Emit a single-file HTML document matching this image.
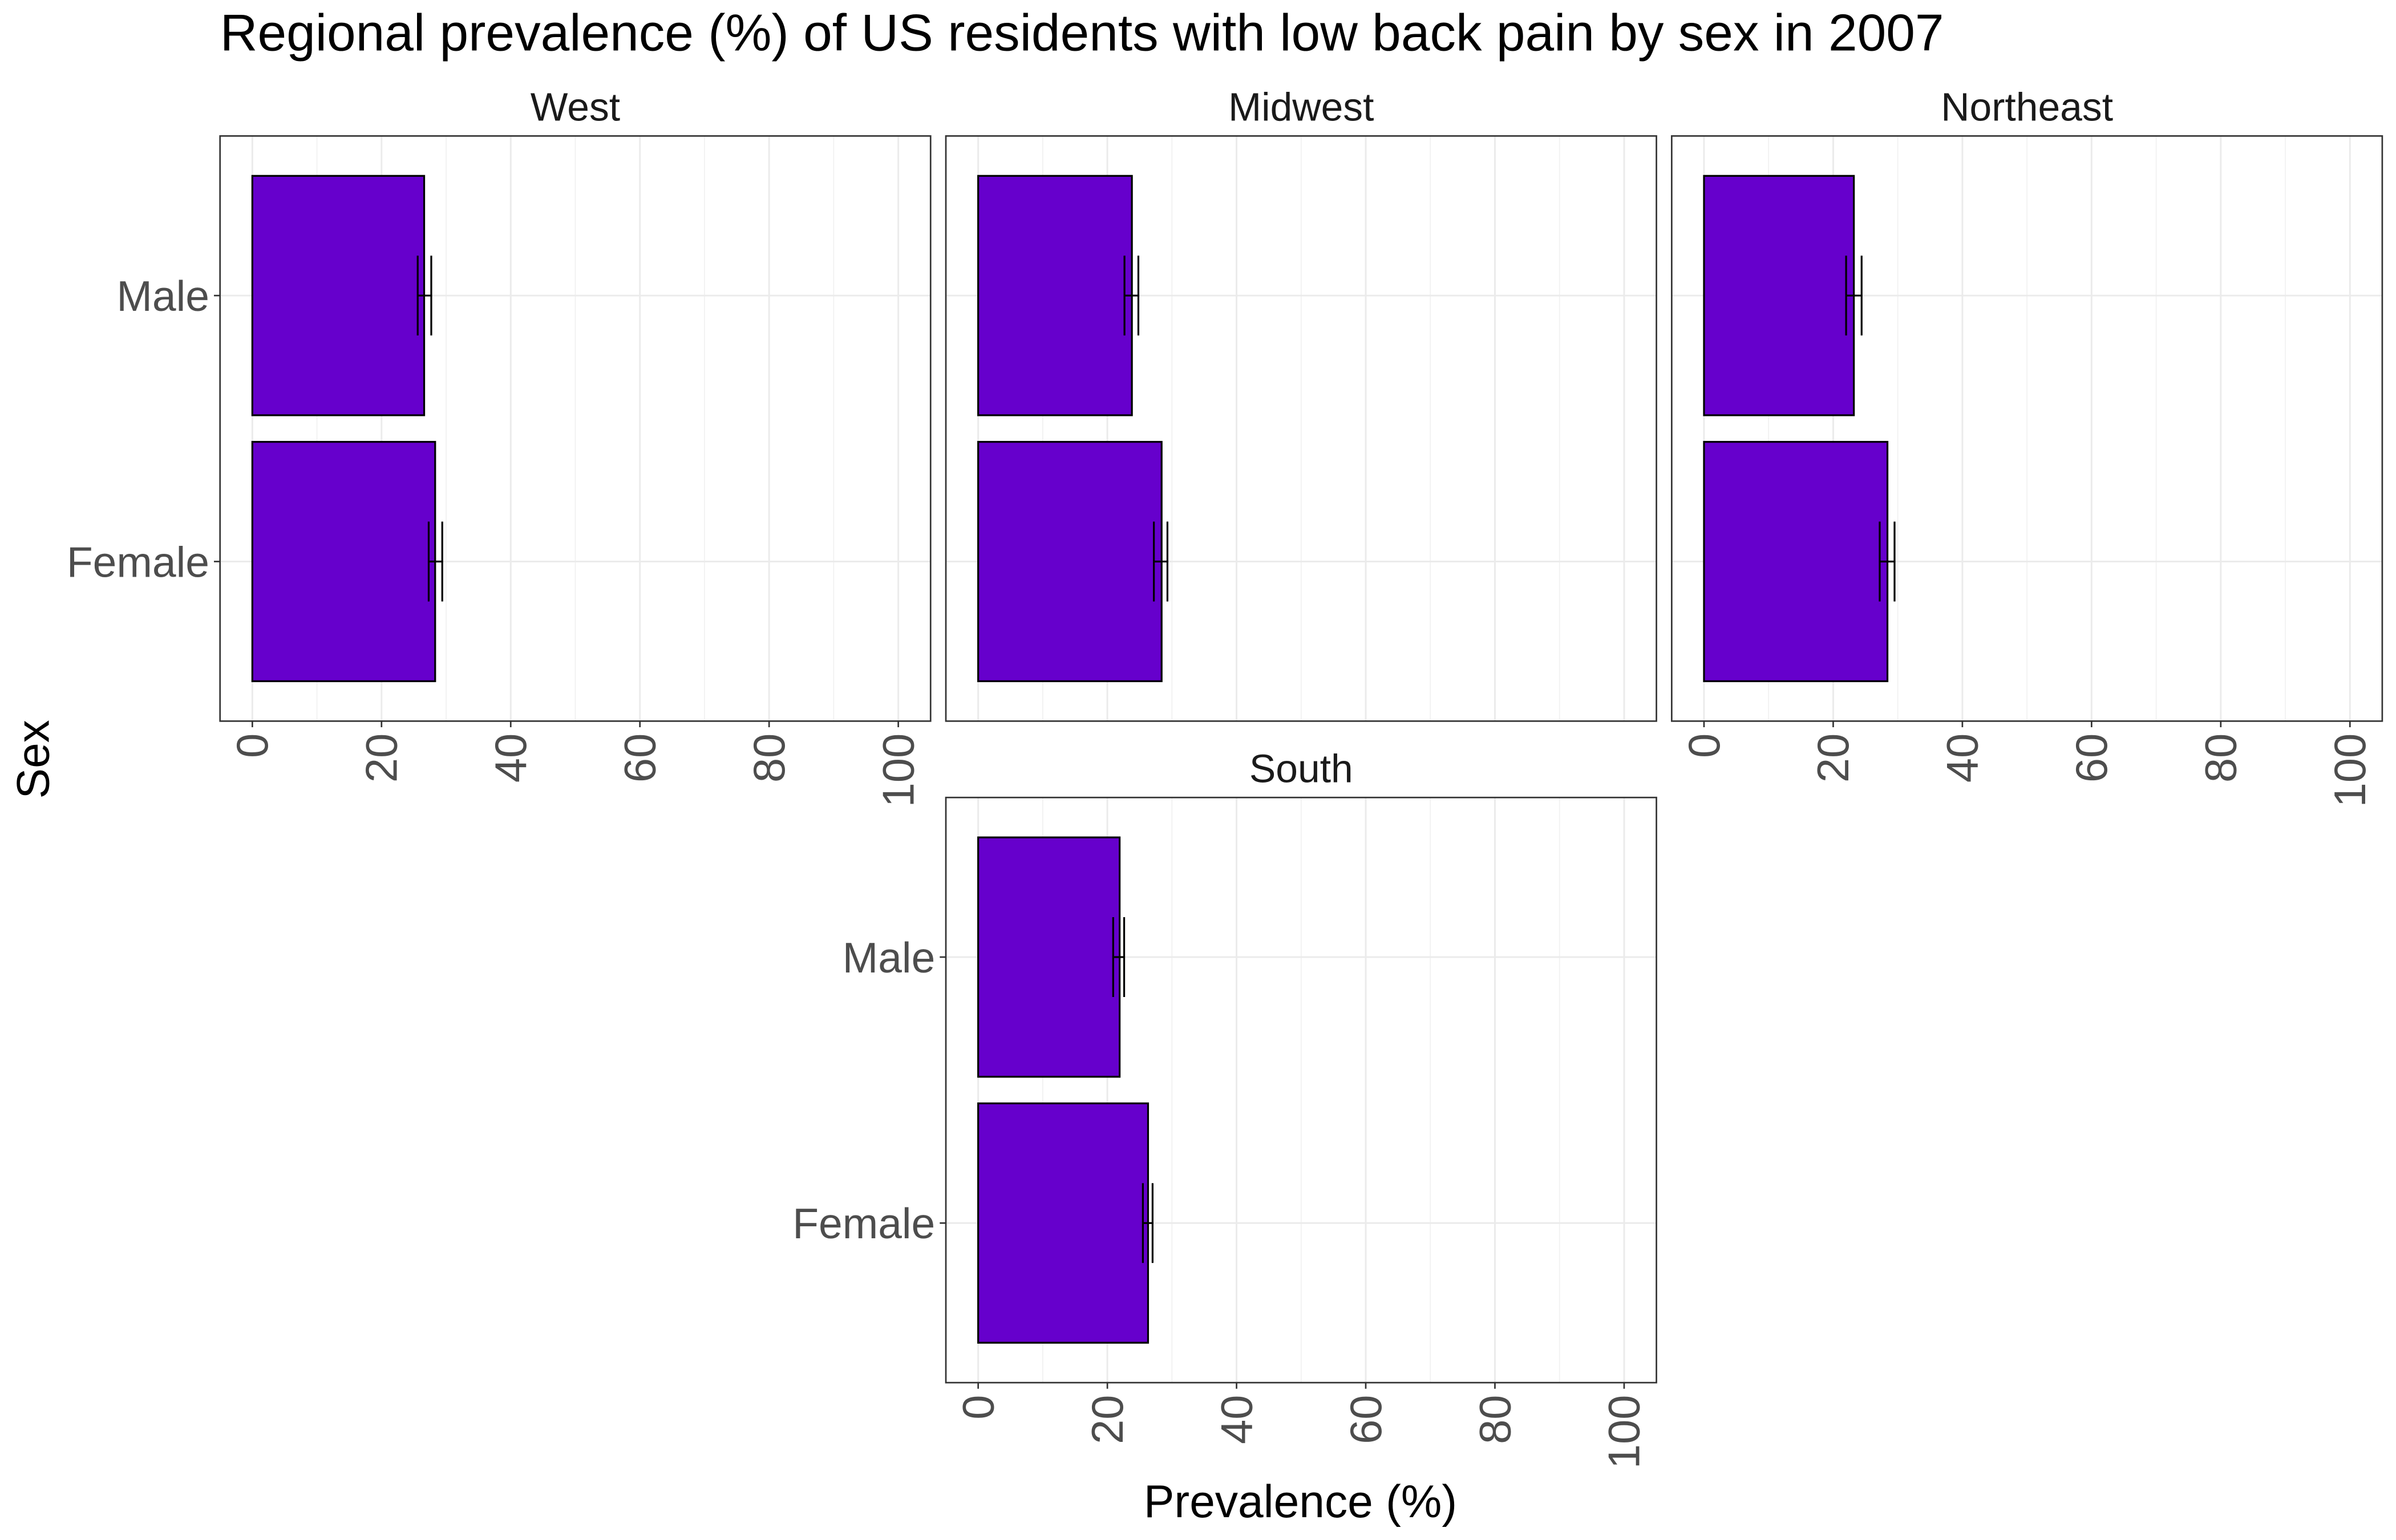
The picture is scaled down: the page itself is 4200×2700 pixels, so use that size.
<!DOCTYPE html>
<html><head><meta charset="utf-8"><style>
html,body{margin:0;padding:0;background:#fff;}
svg{display:block;font-family:"Liberation Sans",Arial,sans-serif;}
</style></head><body>
<svg id="chart" width="4200" height="2700" viewBox="0 0 1568 1008" preserveAspectRatio="none" xmlns="http://www.w3.org/2000/svg">
<rect x="0" y="0" width="1568" height="1008" fill="#fff"/>
<text x="144" y="33" font-size="34" fill="#000">Regional prevalence (%) of US residents with low back pain by sex in 2007</text>
<text transform="translate(32,497) rotate(-90)" text-anchor="middle" font-size="30" fill="#000">Sex</text>
<text x="851" y="993" text-anchor="middle" font-size="30" fill="#000">Prevalence (%)</text>
<g id="panels"></g>
</svg>
<script>
const regions = ["West","Midwest","Northeast","South"];
const categories = ["Female","Male"];
const femaleValues = [28.3, 28.4, 28.4, 26.3];
const femaleLow = [27.3, 27.2, 27.2, 25.5];
const femaleHigh = [29.4, 29.3, 29.5, 27.0];
const maleValues = [26.6, 23.8, 23.2, 21.9];
const maleLow = [25.6, 22.65, 22.0, 20.9];
const maleHigh = [27.7, 24.8, 24.4, 22.6];
const xTicks = [0,20,40,60,80,100];
const xTickLabels = ["0","20","40","60","80","100"];

const NS = "http://www.w3.org/2000/svg";
const g = document.getElementById("panels");
const layout = [
  {x:144,y:89,showY:true,showX:true},
  {x:619,y:89,showY:false,showX:false},
  {x:1094,y:89,showY:false,showX:true},
  {x:619,y:522,showY:true,showX:true}
];
const PW = 465, PH = 383;
function mk(tag, attrs, parent){
  const e = document.createElementNS(NS, tag);
  for (const k in attrs) e.setAttribute(k, attrs[k]);
  parent.appendChild(e);
  return e;
}
regions.forEach((r, i) => {
  const L = layout[i];
  const pg = mk("g", {}, g);
  
  
  const xs = v => L.x + PW * (v + 5) / 110;
  const ys = c => L.y + PH * (2.6 - c) / 2.2;
  const st = mk("text", {x: L.x + PW/2, y: L.y - 10, "text-anchor":"middle", "font-size":"26", fill:"#1a1a1a"}, pg);
  st.textContent = r;
  
  
  for (let v = 10; v <= 90; v += 20) {
    const ln = mk("line", {x1: xs(v), x2: xs(v), y1: L.y, y2: L.y+PH, stroke:"#f0f0f0", "stroke-width":"0.6"}, pg);
    
    
  }
  xTicks.forEach(v => {
    const ln = mk("line", {x1: xs(v), x2: xs(v), y1: L.y, y2: L.y+PH, stroke:"#ebebeb", "stroke-width":"1.1"}, pg);
    
    
  });
  categories.forEach((c, ci) => {
    const ln = mk("line", {x1: L.x, x2: L.x+PW, y1: ys(ci+1), y2: ys(ci+1), stroke:"#ebebeb", "stroke-width":"1.1"}, pg);
    
    
  });
  const vals = [femaleValues[i], maleValues[i]];
  const lows = [femaleLow[i], maleLow[i]];
  const highs = [femaleHigh[i], maleHigh[i]];
  categories.forEach((c, ci) => {
    const yc = ys(ci+1), h = PH * 0.9 / 2.2;
    const b = mk("rect", {x: xs(0), y: yc - h/2, width: xs(vals[ci]) - xs(0), height: h, fill:"#6600cc", stroke:"#000", "stroke-width":"1.2"}, pg);
    
    
    const eh = PH * 0.3 / 2.2;
    const eg = mk("g", {stroke:"#000", "stroke-width":"1.2"}, pg);
    
    
    mk("line", {x1: xs(lows[ci]), x2: xs(highs[ci]), y1: yc, y2: yc}, eg);
    mk("line", {x1: xs(lows[ci]), x2: xs(lows[ci]), y1: yc - eh/2, y2: yc + eh/2}, eg);
    mk("line", {x1: xs(highs[ci]), x2: xs(highs[ci]), y1: yc - eh/2, y2: yc + eh/2}, eg);
    if (L.showY) {
      const tk = mk("line", {x1: L.x-4, x2: L.x, y1: yc, y2: yc, stroke:"#333", "stroke-width":"1"}, pg);
      
      
      const tl = mk("text", {x: L.x-7, y: yc+10, "text-anchor":"end", "font-size":"28", fill:"#4d4d4d"}, pg);
      tl.textContent = c;
      
      
    }
  });
  const bd = mk("rect", {x: L.x, y: L.y, width: PW, height: PH, fill:"none", stroke:"#333", "stroke-width":"1"}, pg);
  
  
  if (L.showX) {
    xTicks.forEach((v, ti) => {
      const tk = mk("line", {x1: xs(v), x2: xs(v), y1: L.y+PH, y2: L.y+PH+4, stroke:"#333", "stroke-width":"1"}, pg);
      
      
      const tl = mk("text", {transform: "translate(" + (xs(v)+10) + "," + (L.y+PH+8) + ") rotate(-90)", "text-anchor":"end", "font-size":"29", fill:"#4d4d4d"}, pg);
      tl.textContent = xTickLabels[ti];
      
      
    });
  }
});
</script>
</body></html>
